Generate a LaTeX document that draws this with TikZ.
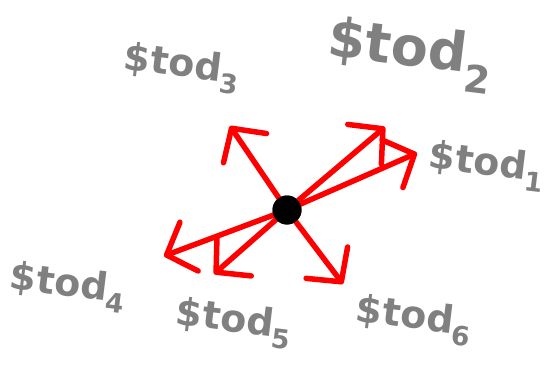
\documentclass[tikz,border=0pt]{standalone}
\usepackage{fontspec}
\setmainfont{DejaVu Sans}
\usetikzlibrary{arrows.meta}
\definecolor{redarrow}{RGB}{255,0,0}
\definecolor{labelgray}{RGB}{128,128,128}
\begin{document}
\begin{tikzpicture}[x=1pt,y=-1pt,
  vec/.style={draw=redarrow, line width=5.5pt, line cap=round,
    -{Straight Barb[length=24pt,width=52pt,line cap=round,line join=round]}},
  lbl/.style={text=labelgray, font=\bfseries\fontsize{38}{38}\selectfont, rotate=-7, inner sep=0pt},
  biglbl/.style={lbl, font=\bfseries\fontsize{54}{54}\selectfont},
  dot/.style={circle, fill=black, minimum size=29pt, inner sep=0pt}]
\useasboundingbox (0,0) rectangle (544,369);
\node[dot] (c) at (287,210) {};
\coordinate (t1) at (417,153);
\coordinate (t2) at (385,127);
\coordinate (t3) at (230,126);
\coordinate (t4) at (164,256);
\coordinate (t5) at (214,274);
\coordinate (t6) at (343,284);
\foreach \i in {1,...,6} \draw[vec] (c.center) -- (t\i);
\node[dot] at (c) {};
\node[lbl] (l1) at (487,166) {\$tod\textsubscript{1}};
\node[biglbl] (l2) at (410,55) {\$tod\textsubscript{2}};
\node[lbl] (l3) at (182,68) {\$tod\textsubscript{3}};
\node[lbl] (l4) at (68,287) {\$tod\textsubscript{4}};
\node[lbl] (l5) at (234,323) {\$tod\textsubscript{5}};
\node[lbl] (l6) at (414,320) {\$tod\textsubscript{6}};
\end{tikzpicture}
\end{document}
